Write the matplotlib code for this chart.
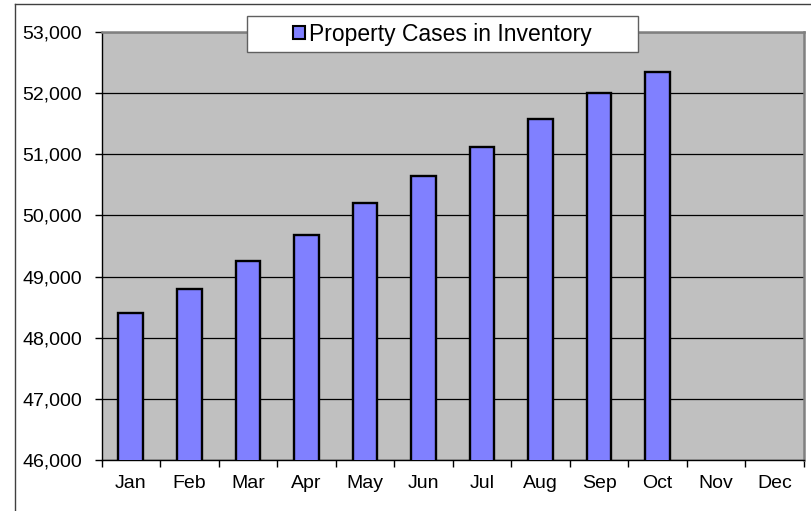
import matplotlib
matplotlib.use('Agg')
import matplotlib.pyplot as plt
from matplotlib.patches import Rectangle
from matplotlib.lines import Line2D
from matplotlib.ticker import FuncFormatter

months = ['Jan', 'Feb', 'Mar', 'Apr', 'May', 'Jun', 'Jul', 'Aug', 'Sep', 'Oct', 'Nov', 'Dec']
cases = [48400, 48800, 49250, 49680, 50200, 50640, 51120, 51570, 52010, 52350, None, None]
series_name = 'Property Cases in Inventory'
y_ticks = [46000, 47000, 48000, 49000, 50000, 51000, 52000, 53000]

plt.rcParams['font.family'] = ['Liberation Sans', 'DejaVu Sans']

W, H = 811, 511
fig = plt.figure(figsize=(W / 100, H / 100), dpi=100)
fig.patch.set_facecolor('white')

# axes placement in pixels
left, right, top, bottom = 101.5, 804, 32, 460
ax = fig.add_axes([left / W, 1 - bottom / H, (right - left) / W, (bottom - top) / H])
ax.set_facecolor('#C0C0C0')

xs = [i for i, v in enumerate(cases) if v is not None]
vals = [v for v in cases if v is not None]
ax.bar(xs, vals, width=0.42, color='#8080FF', edgecolor='black', linewidth=1.7, zorder=3)

ax.set_xlim(-0.5, len(months) - 0.5)
ax.set_ylim(y_ticks[0], y_ticks[-1])
ax.set_yticks(y_ticks)
ax.yaxis.set_major_formatter(FuncFormatter(lambda v, p: f'{int(v):,}'))
ax.grid(axis='y', color='black', linewidth=0.9, zorder=1)
ax.set_axisbelow(True)

ax.set_xticks(range(len(months)))
ax.set_xticklabels(months)
ax.set_xticks([i - 0.5 for i in range(len(months) + 1)], minor=True)
ax.tick_params(axis='x', which='major', length=0, pad=11, labelsize=14)
ax.tick_params(axis='x', which='minor', length=5, width=1, color='black', direction='out')
ax.tick_params(axis='y', length=5, width=1, direction='out', pad=9, labelsize=14)

for s in ['left', 'bottom']:
    ax.spines[s].set_color('black')
    ax.spines[s].set_linewidth(1.0)
for s in ['top', 'right']:
    ax.spines[s].set_color('#808080')
    ax.spines[s].set_linewidth(1.8)

# outer chart border (runs off the right and bottom edges)
fig.add_artist(Line2D([15 / W, 15 / W], [1 - 4 / H, 0], color='#404040', linewidth=1.0))
fig.add_artist(Line2D([15 / W, 1], [1 - 4 / H, 1 - 4 / H], color='#404040', linewidth=1.0))

# legend box
lx0, lx1, ly0, ly1 = 247, 638, 16, 52
fig.add_artist(Rectangle((lx0 / W, 1 - ly1 / H), (lx1 - lx0) / W, (ly1 - ly0) / H,
                         transform=fig.transFigure, facecolor='white',
                         edgecolor='#606060', linewidth=1.0, zorder=4))
handle = Rectangle((0, 0), 1, 1, facecolor='#8080FF', edgecolor='black', linewidth=1.5)
fig.legend([handle], [series_name], loc='center',
           bbox_to_anchor=((lx0 + lx1) / 2 / W, 1 - (ly0 + ly1) / 2 / H),
           bbox_transform=fig.transFigure, frameon=False, fontsize=16.5,
           handlelength=0.52, handleheight=0.52, handletextpad=0.2,
           borderpad=0, borderaxespad=0)

fig.savefig('out.png', dpi=100)
